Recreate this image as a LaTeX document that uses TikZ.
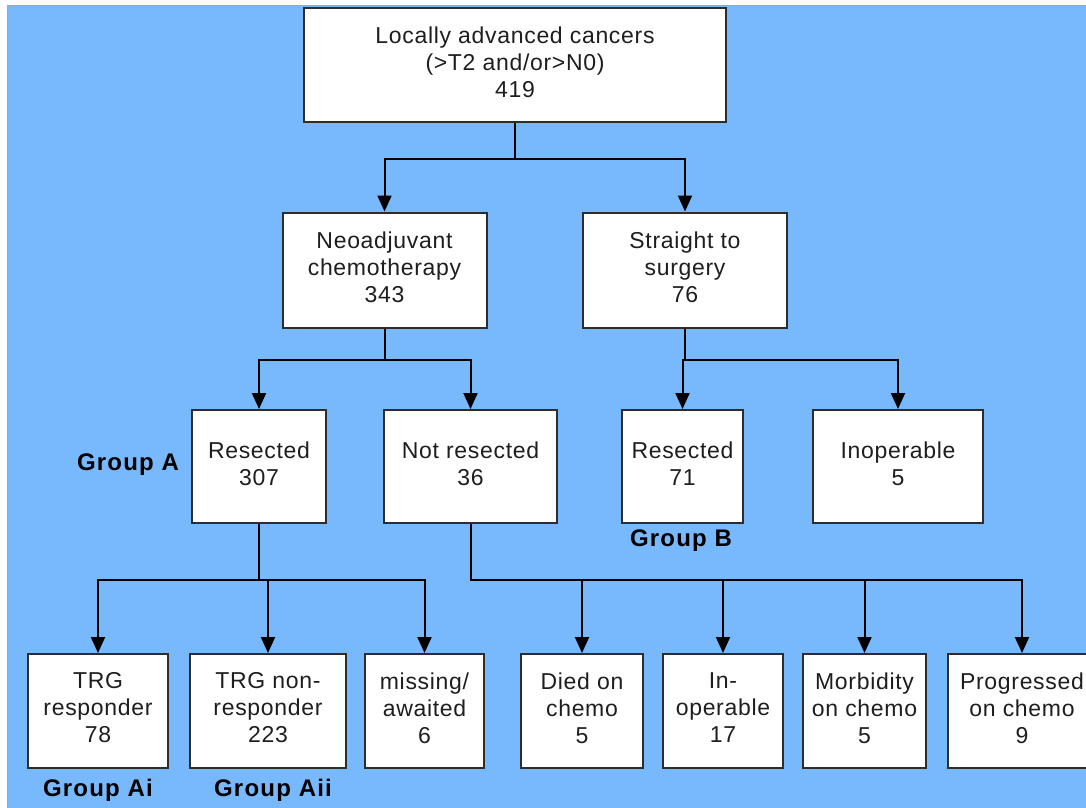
\documentclass[tikz,border=0pt]{standalone}
\usepackage{fontspec}
\setmainfont{Liberation Sans}
\usetikzlibrary{arrows.meta}
\definecolor{bgblue}{RGB}{120,185,253}
\definecolor{boxline}{RGB}{45,45,45}
\definecolor{txt}{RGB}{30,30,30}
\tikzset{
  box/.style={draw=boxline, line width=2pt, fill=white, inner sep=0pt},
  txtn/.style={inner sep=0pt, align=center, yshift=3pt,
    text=txt, font=\fontsize{23}{27}\selectfont\addfontfeature{LetterSpace=3}},
  grp/.style={inner sep=0pt, text=black, font=\fontsize{24}{28}\selectfont\bfseries\addfontfeature{LetterSpace=5}},
  arr/.style={draw=black, line width=2pt, -{Triangle[width=14pt,length=16pt]}}
}
\begin{document}
\begin{tikzpicture}[x=1pt,y=-1pt]
\clip (0,0) rectangle (1086,807);
\fill[white] (0,0) rectangle (1086,807);
\fill[bgblue] (7,5) rectangle (1090,812);
\draw[gray!70, line width=1pt] (7,812) -- (7,5) -- (1090,5);

% boxes
\node[box, minimum width=422pt, minimum height=114pt] (top) at (515,65) {};
\node[box, minimum width=204pt, minimum height=115pt] (neo) at (384.5,270) {};
\node[box, minimum width=204pt, minimum height=115pt] (straight) at (685,270) {};
\node[box, minimum width=134pt, minimum height=113pt] (res307) at (259,466.5) {};
\node[box, minimum width=173pt, minimum height=113pt] (notres) at (470.5,466.5) {};
\node[box, minimum width=121pt, minimum height=113pt] (res71) at (682.5,466.5) {};
\node[box, minimum width=170pt, minimum height=113pt] (inop) at (898,466.5) {};
\node[box, minimum width=140pt, minimum height=114pt] (trgr) at (98,711) {};
\node[box, minimum width=156pt, minimum height=114pt] (trgnr) at (268,711) {};
\node[box, minimum width=119pt, minimum height=114pt] (missing) at (424.5,711) {};
\node[box, minimum width=122pt, minimum height=114pt] (died) at (582,711) {};
\node[box, minimum width=120pt, minimum height=114pt] (inop2) at (723,711) {};
\node[box, minimum width=123pt, minimum height=114pt] (morb) at (864.5,711) {};
\node[box, minimum width=148pt, minimum height=114pt] (prog) at (1022,711) {};

% box texts
\node[txtn] (topT) at (top.center) {Locally advanced cancers\\(>T2 and/or>N0)\\419};
\node[txtn] (neoT) at (neo.center) {Neoadjuvant\\chemotherapy\\343};
\node[txtn] (straightT) at (straight.center) {Straight to\\surgery\\76};
\node[txtn] (res307T) at (res307.center) {Resected\\307};
\node[txtn] (notresT) at (notres.center) {Not resected\\36};
\node[txtn] (res71T) at (res71.center) {Resected\\71};
\node[txtn] (inopT) at (inop.center) {Inoperable\\5};
\node[txtn] (trgrT) at (trgr.center) {TRG\\responder\\78};
\node[txtn] (trgnrT) at (trgnr.center) {TRG non-\\responder\\223};
\node[txtn] (missingT) at (missing.center) {missing/\\awaited\\6};
\node[txtn] (diedT) at (died.center) {Died on\\chemo\\5};
\node[txtn] (inop2T) at (inop2.center) {In-\\operable\\17};
\node[txtn] (morbT) at (morb.center) {Morbidity\\on chemo\\5};
\node[txtn] (progT) at (prog.center) {Progressed\\on chemo\\9};

% group labels
\node[grp] (ga) at (128,465) {Group A};
\node[grp] (gb) at (681,541) {Group B};
\node[grp] (gai) at (98,790) {Group Ai};
\node[grp] (gaii) at (273,790) {Group Aii};

% connectors
\draw[arr] (top.south) -- ++(0,36) -| (neo.north);
\draw[arr] (top.south) -- ++(0,36) -| (straight.north);
\draw[arr] (neo.south) -- ++(0,31) -| (res307.north);
\draw[arr] (neo.south) -- ++(0,31) -| (notres.north);
\draw[arr] (straight.south) -- ++(0,31) -| (res71.north);
\draw[arr] (straight.south) -- ++(0,31) -| (inop.north);
\draw[arr] (res307.south) -- ++(0,56) -| (trgr.north);
\draw[arr] (res307.south) -- ++(0,56) -| (trgnr.north);
\draw[arr] (res307.south) -- ++(0,56) -| (missing.north);
\draw[arr] (notres.south) -- ++(0,56) -| (died.north);
\draw[arr] (notres.south) -- ++(0,56) -| (inop2.north);
\draw[arr] (notres.south) -- ++(0,56) -| (morb.north);
\draw[arr] (notres.south) -- ++(0,56) -| (prog.north);
\end{tikzpicture}
\end{document}
